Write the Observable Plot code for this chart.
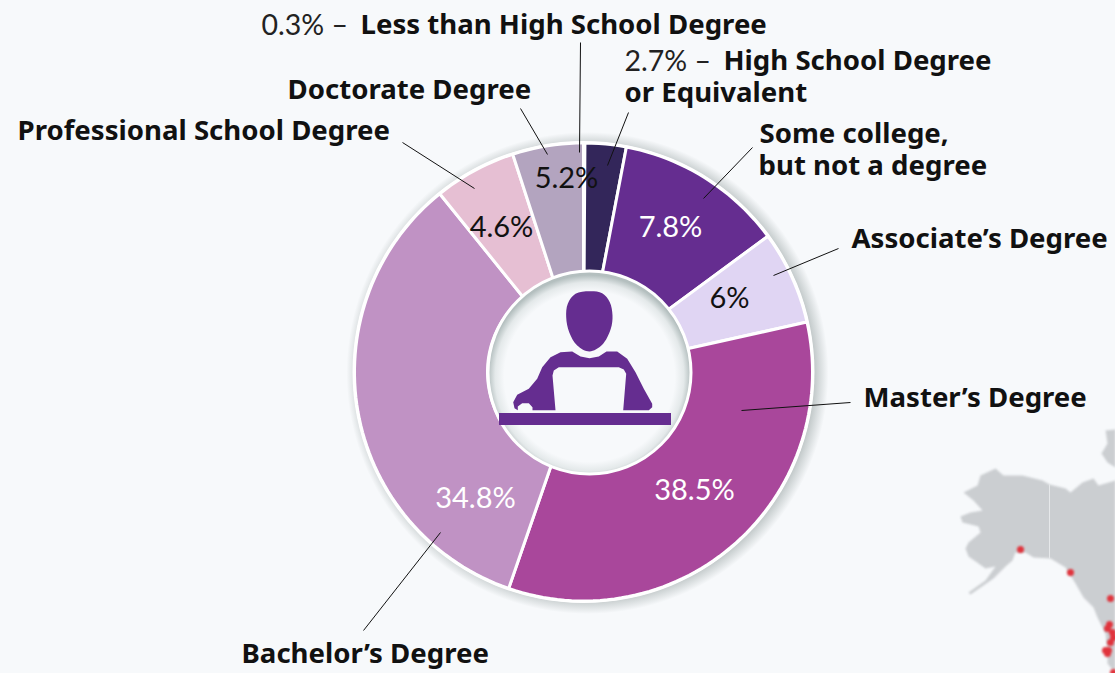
<!DOCTYPE html>
<html>
<head>
<meta charset="utf-8">
<script src="https://cdn.jsdelivr.net/npm/d3@7"></script>
<script src="https://cdn.jsdelivr.net/npm/@observablehq/plot@0.6"></script>
<style>
html,body{margin:0;padding:0;background:#f7f9fb;overflow:hidden}
svg{display:block;background:transparent}
</style>
</head>
<body>
<div id="chart"></div>
<script>
// ---- Data ----
const categories = ["Less than High School Degree","High School Degree or Equivalent","Some college, but not a degree","Associate’s Degree","Master’s Degree","Bachelor’s Degree","Professional School Degree","Doctorate Degree"];
const statedPercents = ["0.3%","2.7%","7.8%","6%","38.5%","34.8%","4.6%","5.2%"];
// Slice sizes as they are drawn in the picture (they differ from the stated figures)
const drawnShares = [0.1,2.9,11.9,6.6,33.8,33.9,5.8,5.0];
const sliceColors = ["#33265a","#33265a","#652d90","#e0d5f3","#a9479b","#c092c4","#e6bfd3","#b3a4bf"];

// ---- Layout ----
const W = 1115, H = 673, cx = 583, cy = 371.5, rOuter = 229, rBase = 96;
const holeX = 589, holeY = 372, holeR = 101.5;
const bg = "#f7f9fb", purple = "#652d90", FONT = "Lato", BOLD_FONT = "'Noto Sans'";

const percentLabels = [
  {text: statedPercents[7], x: 566, y: 178, fill: "#111"},
  {text: statedPercents[2], x: 670, y: 227, fill: "#fff"},
  {text: statedPercents[3], x: 729, y: 298, fill: "#111"},
  {text: statedPercents[4], x: 694, y: 490, fill: "#fff"},
  {text: statedPercents[5], x: 475, y: 498, fill: "#fff"},
  {text: statedPercents[6], x: 501, y: 227, fill: "#111"}
];
const boldLabels = [
  {text: "Less than High School Degree", x: 360, y: 25},
  {text: "High School Degree", x: 723, y: 61},
  {text: "or Equivalent", x: 624, y: 93},
  {text: "Doctorate Degree", x: 287, y: 90},
  {text: "Professional School Degree", x: 17, y: 131},
  {text: "Some college,", x: 759, y: 134},
  {text: "but not a degree", x: 758, y: 166},
  {text: "Associate’s Degree", x: 851, y: 239},
  {text: "Master’s Degree", x: 863, y: 398},
  {text: "Bachelor’s Degree", x: 241, y: 654}
];
const plainLabels = [
  {text: statedPercents[0] + " –", x: 261, y: 25},
  {text: statedPercents[1] + " –", x: 624, y: 61}
];
const leaders = [
  {x1: 580, y1: 42, x2: 579, y2: 152},
  {x1: 628, y1: 112, x2: 607, y2: 165},
  {x1: 752, y1: 147, x2: 703, y2: 198},
  {x1: 838, y1: 248, x2: 773, y2: 275},
  {x1: 850, y1: 402, x2: 741, y2: 410},
  {x1: 363, y1: 630, x2: 440, y2: 532},
  {x1: 402, y1: 142, x2: 474, y2: 188},
  {x1: 520, y1: 108, x2: 547, y2: 154}
];

// Background map fragment, traced
const mapMain = [[995,468],[1003,475],[1022,475],[1042,480],[1049,484],[1065,488],[1070,492],[1082,482],[1093,478],[1098,485],[1115,480],[1115,673],[1107,663],[1107,650],[1105,633],[1097,617],[1093,607],[1083,597],[1075,583],[1065,567],[1050,558],[1033,557],[1025,552],[1015,552],[1012,560],[1005,566],[993,578],[970,594],[968,592],[985,580],[995,566],[985,568],[978,563],[968,556],[965,548],[968,542],[980,532],[978,526],[962,522],[960,516],[970,512],[982,510],[973,500],[963,492],[977,485],[980,475]];
const mapIsland = [[1105,430],[1115,429],[1115,467],[1107,462],[1101,453],[1107,443]];
const mapBorder = [[1049,484],[1049,558]];
const mapDots = [[1020,549],[1070,572],[1110,598],[1109,624],[1107,628],[1112,632],[1113,637],[1110,642],[1105,650],[1108,650],[1107,653],[1113,672]];

// Icon, traced
const iconHead = [[589,290.7],[601.7,292.7],[609.3,301.7],[612,315],[610.3,328.3],[601.7,344.3],[589,351],[576.7,345],[568.7,331.7],[565.7,316.7],[567.3,303.3],[575,293.3]];
const iconBody = [[571.7,351],[580,356],[589,357.7],[598.3,356],[606,351],[616.7,351],[626.7,358.3],[635,371.7],[643.3,388.3],[651.7,403.3],[651.7,406.7],[648.3,409.7],[622.7,409.7],[625.7,373.3],[623.3,369],[618.3,366.7],[558.3,366.7],[553.3,370],[552,375],[555,409.7],[532,409.7],[532,406.7],[528.3,402.7],[521.7,402.7],[517.3,406],[517.3,409.7],[514,407.7],[512.7,401.7],[516.7,394.3],[528.3,388.3],[536.7,378.3],[541.7,366.7],[550,356.7],[560,351.7]];
const iconDesk = [{x1: 499, x2: 671, y1: 413, y2: 425}];

// ---- Slice outlines derived from the shares ----
const sliceRows = [];
let cum = 0;
drawnShares.forEach((s, i) => {
  const a0 = cum / 100 * 2 * Math.PI, a1 = (cum + s) / 100 * 2 * Math.PI;
  cum += s;
  const n = Math.max(2, Math.ceil(s * 2));
  const pt = (r, a) => ({cat: categories[i], x: cx + r * Math.sin(a), y: cy - r * Math.cos(a)});
  for (let k = 0; k <= n; k++) sliceRows.push(pt(rOuter, a0 + (a1 - a0) * k / n));
  for (let k = n; k >= 0; k--) sliceRows.push(pt(rBase, a0 + (a1 - a0) * k / n));
});
const pts = a => a.map(([x, y]) => ({x, y}));

const defs = () => {
  const d = d3.create("svg:defs");
  const g = d.append("radialGradient").attr("id", "holeShade").attr("cx", 0.5).attr("cy", 0.52).attr("r", 0.5);
  [[0, bg], [0.84, bg], [0.93, "#e4e9ea"], [1, "#b4bfbf"]].forEach(([o, c]) =>
    g.append("stop").attr("offset", o).attr("stop-color", c));
  const o = d.append("radialGradient").attr("id", "outerShade");
  [[0, "#aab3b3", 0.7], [0.94, "#aab3b3", 0.7], [1, "#aab3b3", 0]].forEach(([f, c, a]) =>
    o.append("stop").attr("offset", f).attr("stop-color", c).attr("stop-opacity", a));
  return d.node();
};
const soft = (i, s, v, d, c, next) => {
  const g = next(i, s, v, d, c);
  g.style.filter = "blur(0.8px)";
  return g;
};

const chart = Plot.plot({
  width: W, height: H,
  margin: 0,
  style: {background: "transparent"},
  x: {domain: [0, W], range: [0, W], axis: null},
  y: {domain: [0, H], range: [0, H], axis: null},
  color: {type: "ordinal", domain: categories, range: sliceColors},
  marks: [
    defs,
    // map
    Plot.line(pts(mapMain), {x: "x", y: "y", fill: "#cbced1", stroke: "none", curve: "linear-closed", render: soft}),
    Plot.line(pts(mapIsland), {x: "x", y: "y", fill: "#cbced1", stroke: "none", curve: "linear-closed", render: soft}),
    Plot.line(pts(mapBorder), {x: "x", y: "y", stroke: "#e6e8ea", strokeWidth: 1}),
    Plot.dot(pts(mapDots), {x: "x", y: "y", r: 3.5, fill: "#e0333c", stroke: "none", render: soft}),
    // donut
    Plot.dot([{x: cx + 4, y: cy + 1}], {x: "x", y: "y", r: rOuter + 12, fill: "url(#outerShade)", stroke: "none"}),
    Plot.dot([{x: cx, y: cy}], {x: "x", y: "y", r: rOuter + 2, fill: "#ffffff", stroke: "none"}),
    Plot.line(sliceRows, {x: "x", y: "y", z: "cat", fill: "cat", stroke: "#fff", strokeWidth: 3, strokeLinejoin: "miter", curve: "linear-closed"}),
    Plot.dot([{x: holeX, y: holeY}], {x: "x", y: "y", r: holeR, fill: "url(#holeShade)", stroke: "#fff", strokeWidth: 3}),
    // icon
    Plot.line(pts(iconHead), {x: "x", y: "y", fill: purple, stroke: "none", curve: "catmull-rom-closed"}),
    Plot.line(pts(iconBody), {x: "x", y: "y", fill: purple, stroke: "none", curve: "linear-closed"}),
    Plot.rect(iconDesk, {x1: "x1", x2: "x2", y1: "y1", y2: "y2", fill: purple}),
    // leaders
    Plot.link(leaders, {x1: "x1", y1: "y1", x2: "x2", y2: "y2", stroke: "#111", strokeWidth: 1}),
    // text
    Plot.text(percentLabels, {x: "x", y: "y", text: "text", fill: "fill", fontSize: 29, fontFamily: FONT, textAnchor: "middle"}),
    Plot.text(plainLabels, {x: "x", y: "y", text: "text", fill: "#222", fontSize: 28.5, fontFamily: FONT, textAnchor: "start"}),
    Plot.text(boldLabels, {x: "x", y: "y", text: "text", fill: "#111", fontSize: 27.6, fontWeight: 700, fontFamily: BOLD_FONT, textAnchor: "start"})
  ]
});
document.getElementById("chart").append(chart);
</script>
</body>
</html>
